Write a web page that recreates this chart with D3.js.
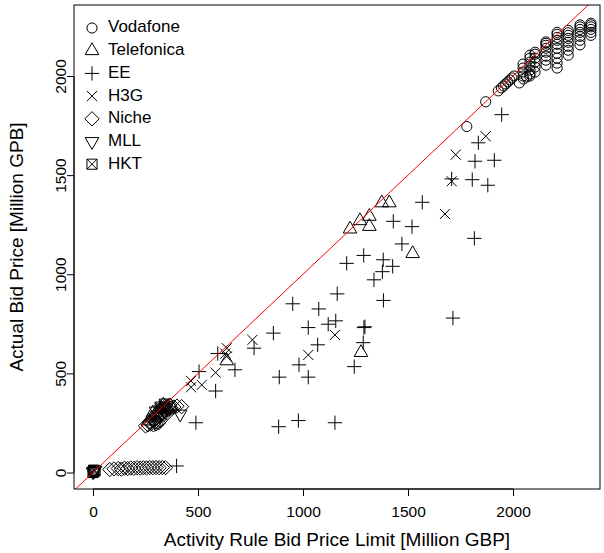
<!DOCTYPE html>
<html><head><meta charset="utf-8">
<script src="https://cdn.jsdelivr.net/npm/d3@7"></script>
<style>body{margin:0;background:#fff} text{font-family:"Liberation Sans",Arial,sans-serif;fill:#000}</style>
</head><body><svg id="c" width="604" height="553"></svg>
<script>
const xTicks=[0,500,1000,1500,2000];
const yTicks=[0,500,1000,1500,2000];
const seriesNames=["Vodafone","Telefonica","EE","H3G","Niche","MLL","HKT"];
const xLabel="Activity Rule Bid Price Limit [Million GBP]";
const yLabel="Actual Bid Price [Million GPB]";

const vodafone=[
[1780,1745],[1870,1870],
[1930,1925],[1945,1940],[1955,1950],[1965,1960],[1975,1970],[1985,1980],[1995,1990],[2005,2000],
[2030,1965],[2050,1985],[2065,1995],[2080,2000],
[2048,2000],[2048,2020],[2048,2040],[2048,2060],
[2081,2010],[2081,2030],[2081,2050],[2081,2070],[2081,2090],[2081,2105],
[2105,2020],[2105,2045],[2105,2070],[2105,2090],[2105,2110],[2105,2120],
[2157,2055],[2157,2080],[2157,2100],[2157,2120],[2157,2140],[2157,2155],[2157,2165],[2157,2172],
[2210,2040],[2210,2065],[2210,2090],[2210,2115],[2210,2140],[2210,2160],[2210,2180],[2210,2195],[2210,2210],[2210,2220],
[2263,2105],[2263,2130],[2263,2150],[2263,2170],[2263,2190],[2263,2205],[2263,2218],[2263,2230],
[2319,2157],[2319,2180],[2319,2200],[2319,2220],[2319,2235],[2319,2248],[2319,2258],
[2371,2205],[2371,2220],[2371,2235],[2371,2248],[2371,2258],[2371,2266]
];
const telefonica=[
[1224,1228],[1271,1270],[1316,1292],[1316,1241],[1375,1360],[1411,1360],[1522,1104],[1276,605],[637,563],
[265,260],[280,275],[295,285],[310,290],[325,305],[340,318],[355,328],[370,335],[300,300],[320,320],[285,300],[335,340]
];
const ee=[
[1946,1805],[1835,1663],[1819,1570],[1911,1575],[1708,1481],[1806,1477],[1880,1449],[1568,1363],
[1430,1267],[1519,1240],[1816,1181],[1471,1153],[1289,1095],[1208,1055],[1382,1073],[1427,1040],
[1378,1013],[1338,972],[1163,901],[1383,868],[951,851],[1075,825],[1025,731],[1120,748],[1156,765],
[1290,731],[1295,735],[859,703],[767,627],[1070,644],[1287,655],[981,543],[1025,481],[887,481],
[1244,534],[676,518],[505,509],[594,600],[584,411],[490,251],[884,231],[978,262],[1152,251],
[398,33],[1714,779]
];
const h3g=[
[1870,1696],[1727,1603],[1708,1469],[1676,1304],[1152,694],[1025,593],[759,669],[637,627],
[584,504],[467,462],[518,442],[467,430],[637,585],[630,600]
];
const niche=[
[80,15],[100,18],[120,20],[135,17],[150,22],[165,20],[180,23],[195,21],[210,24],[225,22],
[240,24],[255,23],[270,25],[285,24],[300,25],[315,24],[330,25],[345,24],
[250,235],[262,240],[275,245],[288,240],[300,245],[312,250],[320,262],[290,265],[305,275],
[318,285],[330,300],[340,310],[350,315],[360,320],[372,325],[385,330],[400,335],[422,332],
[270,255],[295,255],[335,290],[355,300],[365,340],[345,335]
];
const mll=[[0,3],[5,8],[10,12],[300,310],[330,325],[415,295],[350,330]];
const hkt=[[0,0],[5,5],[10,10],[3,12],[320,330],[340,345]];

const svg=d3.select("#c");
const L=74,T=5,R=600,B=489;
const x=d3.scaleLinear().domain([0,2000]).range([93,513]);
const y=d3.scaleLinear().domain([0,2000]).range([472.5,76]);
const S=13.5, rad=0.375*S;

function sym(k){
  const a=Math.SQRT2*rad, r=1.5551*rad, xc=1.3468*rad, yc=0.7776*rad;
  switch(k){
    case 0: return `M${rad},0A${rad},${rad},0,1,1,${-rad},0A${rad},${rad},0,1,1,${rad},0Z`;
    case 1: return `M0,${-r}L${xc},${yc}L${-xc},${yc}Z`;
    case 2: return `M${-a},0H${a}M0,${-a}V${a}`;
    case 3: return `M${-rad},${-rad}L${rad},${rad}M${-rad},${rad}L${rad},${-rad}`;
    case 4: return `M0,${-a}L${a},0L0,${a}L${-a},0Z`;
    case 5: return `M0,${r}L${xc},${-yc}L${-xc},${-yc}Z`;
    case 6: return `M${-rad},${-rad}H${rad}V${rad}H${-rad}ZM${-rad},${-rad}L${rad},${rad}M${-rad},${rad}L${rad},${-rad}`;
  }
}

svg.append("defs").append("clipPath").attr("id","clip").append("rect")
  .attr("x",L).attr("y",T).attr("width",R-L).attr("height",B-T);

const all=[vodafone,telefonica,ee,h3g,niche,mll,hkt];
const g=svg.append("g").attr("clip-path","url(#clip)");
all.forEach((arr,k)=>{
  g.selectAll(null).data(arr).enter().append("path")
   .attr("d",sym(k)).attr("transform",d=>`translate(${x(d[0])},${y(d[1])})`)
   .attr("fill","none").attr("stroke","#000").attr("stroke-width",1);
});
g.append("line").attr("x1",x(-200)).attr("y1",y(-200)).attr("x2",x(2600)).attr("y2",y(2600))
 .attr("stroke","#ff0000").attr("stroke-width",1);

svg.append("rect").attr("x",L).attr("y",T).attr("width",R-L).attr("height",B-T)
  .attr("fill","none").attr("stroke","#000").attr("stroke-width",1);

const fs=15.5;
const xa=svg.append("g").attr("transform",`translate(0,${B})`)
  .call(d3.axisBottom(x).tickValues(xTicks).tickSize(7).tickPadding(8).tickFormat(d3.format("d")));
const ya=svg.append("g").attr("transform",`translate(${L},0)`)
  .call(d3.axisLeft(y).tickValues(yTicks).tickSize(7).tickPadding(8).tickFormat(d3.format("d")));
[xa,ya].forEach(a=>{a.select(".domain").attr("d",null);
  a.selectAll("text").attr("font-size",fs).attr("font-family","Liberation Sans, Arial, sans-serif").attr("fill","#000");
  a.selectAll("line").attr("stroke","#000");});
xa.append("path").attr("d",`M${x(0)},0H${x(2000)}`).attr("stroke","#000");
ya.append("path").attr("d",`M0,${y(0)}V${y(2000)}`).attr("stroke","#000");
xa.selectAll(".tick text").attr("dy",null).attr("y",24).attr("dominant-baseline","middle");
ya.selectAll(".tick text").attr("text-anchor","middle").attr("x",0).attr("dy",null)
  .attr("dominant-baseline","middle").attr("transform",function(d){return `translate(-12,0) rotate(-90)`;});

svg.append("text").attr("x",(L+R)/2).attr("y",541).attr("text-anchor","middle")
  .attr("dominant-baseline","middle").attr("font-size",19).text(xLabel);
svg.append("text").attr("transform",`translate(18,${(T+B)/2}) rotate(-90)`).attr("text-anchor","middle")
  .attr("dominant-baseline","middle").attr("font-size",19).text(yLabel);

const lg=svg.append("g");
seriesNames.forEach((n,i)=>{
  const yy=28+i*22.7;
  lg.append("path").attr("d",sym(i)).attr("transform",`translate(92,${yy})`)
    .attr("fill","none").attr("stroke","#000").attr("stroke-width",1);
  lg.append("text").attr("x",108).attr("y",yy).attr("dominant-baseline","middle").attr("font-size",17).text(n);
});
</script></body></html>
